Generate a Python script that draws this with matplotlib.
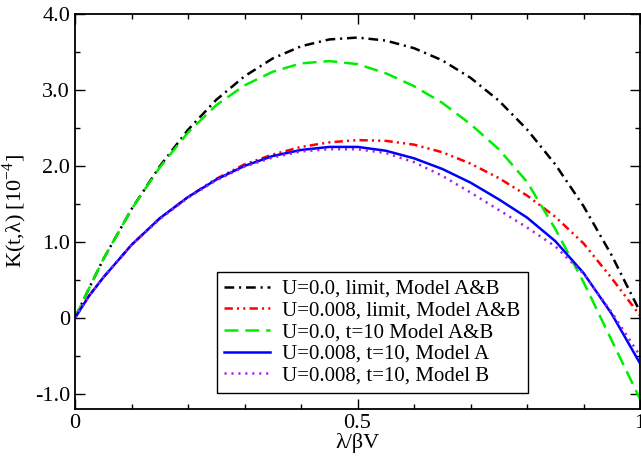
import matplotlib
matplotlib.use("Agg")
import matplotlib.pyplot as plt

# lambda / beta V sample positions
x = [0.0, 0.025, 0.05, 0.1, 0.15, 0.2, 0.25, 0.3, 0.35, 0.4, 0.45, 0.5,
     0.55, 0.6, 0.65, 0.7, 0.75, 0.8, 0.85, 0.9, 0.95, 1.0]

# K(t, lambda) in units of 1e-4
k_u0_limit = [0.0, 0.39, 0.77, 1.43, 1.995, 2.475, 2.87, 3.18, 3.415, 3.575, 3.665, 3.69,
              3.65, 3.55, 3.39, 3.16, 2.86, 2.48, 2.02, 1.47, 0.82, 0.08]
k_u008_limit = [0.0, 0.29, 0.53, 0.96, 1.31, 1.59, 1.83, 2.02, 2.15, 2.25, 2.31, 2.34,
                2.33, 2.28, 2.18, 2.03, 1.84, 1.61, 1.33, 0.98, 0.52, 0.03]
k_u0_t10 = [0.0, 0.39, 0.77, 1.43, 1.98, 2.44, 2.80, 3.06, 3.24, 3.35, 3.38, 3.34,
            3.22, 3.05, 2.83, 2.55, 2.22, 1.79, 1.17, 0.47, -0.30, -1.07]
k_u008_t10_a = [0.0, 0.29, 0.53, 0.96, 1.31, 1.59, 1.82, 2.00, 2.13, 2.21, 2.25, 2.25,
                2.20, 2.10, 1.96, 1.78, 1.56, 1.32, 1.01, 0.59, 0.05, -0.60]
k_u008_t10_b = [0.0, 0.29, 0.53, 0.96, 1.30, 1.58, 1.81, 1.99, 2.11, 2.19, 2.22, 2.22,
                2.17, 2.05, 1.87, 1.65, 1.42, 1.19, 0.94, 0.58, 0.07, -0.50]

labels = ["U=0.0, limit, Model A&B",
          "U=0.008, limit, Model A&B",
          "U=0.0, t=10 Model A&B",
          "U=0.008, t=10, Model A",
          "U=0.008, t=10, Model B"]

plt.rcParams["font.family"] = ["Liberation Serif", "DejaVu Serif"]
plt.rcParams["mathtext.fontset"] = "custom"
plt.rcParams["mathtext.rm"] = "Liberation Serif"
plt.rcParams["lines.scale_dashes"] = False

fig = plt.figure(figsize=(6.41, 4.59), dpi=100)
ax = fig.add_axes([0.117, 0.109, 0.8815, 0.8605])

ax.plot(x, k_u0_limit, color="black", lw=1.8, dashes=(7, 3.5, 1.5, 3.5), label=labels[0])
ax.plot(x, k_u008_limit, color="#ff0000", lw=1.8, dashes=(6, 3, 1.5, 3, 1.5, 3), label=labels[1])
ax.plot(x, k_u0_t10, color="#00ee00", lw=1.8, dashes=(10, 5), label=labels[2])
ax.plot(x, k_u008_t10_a, color="#0000ff", lw=1.8, label=labels[3])
ax.plot(x, k_u008_t10_b, color="#a020f0", lw=1.8, dashes=(1.5, 3.5), label=labels[4])

ax.set_xlim(0, 1)
ax.set_ylim(-1.2, 4.0)
ax.set_xticks([0, 0.5, 1])
ax.set_xticklabels(["0", "0.5", "1"])
ax.set_xticks([0.1, 0.2, 0.3, 0.4, 0.6, 0.7, 0.8, 0.9], minor=True)
ax.set_yticks([-1, 0, 1, 2, 3, 4])
ax.set_yticklabels(["-1.0", "0", "1.0", "2.0", "3.0", "4.0"])
ax.set_yticks([-0.5, 0.5, 1.5, 2.5, 3.5], minor=True)
ax.tick_params(which="both", direction="in", top=True, right=True, labelsize=16)
ax.tick_params(which="major", length=7, width=1)
ax.tick_params(which="minor", length=3.6, width=1)
for s in ax.spines.values():
    s.set_linewidth(1.3)

ax.set_xlabel("λ/βV", fontsize=16, labelpad=0)
ax.set_ylabel(r"K(t,λ) [10$^{-4}$]", fontsize=16, labelpad=4)

leg = ax.legend(loc="lower left", bbox_to_anchor=(0.251, 0.041), fontsize=15,
                handlelength=2.2, handletextpad=0.6, labelspacing=0.1,
                borderpad=0.35, borderaxespad=0,
                fancybox=False, framealpha=1, edgecolor="black")
leg.get_frame().set_linewidth(1.0)

fig.savefig("out.png", dpi=100)
